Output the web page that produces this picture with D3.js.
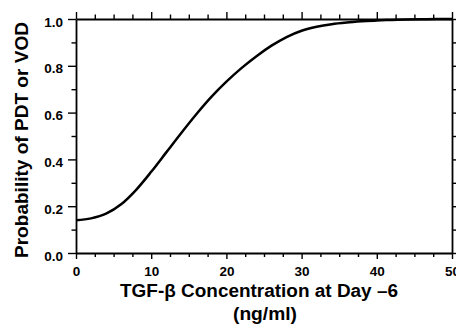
<!DOCTYPE html>
<html>
<head>
<meta charset="utf-8">
<script src="https://cdn.jsdelivr.net/npm/d3@7"></script>
<style>
  html, body { margin: 0; padding: 0; background: #fff; }
  svg { display: block; }
  text { font-family: "Liberation Sans", Arial, Helvetica, sans-serif; font-weight: bold; fill: #000; }
</style>
</head>
<body>
<svg id="chart" width="456" height="325"></svg>
<script>
// Data
const concentration = [0, 2, 4, 6, 8, 10, 12, 14, 16, 18, 20, 22, 24, 26, 28, 30, 32, 34, 36, 38, 40, 42, 44, 46, 48, 50];
const probability   = [0.140, 0.148, 0.168, 0.208, 0.270, 0.347, 0.430, 0.513, 0.593, 0.667, 0.732, 0.790, 0.841, 0.886, 0.923, 0.950, 0.967, 0.978, 0.985, 0.990, 0.994, 0.996, 0.998, 0.999, 1.0, 1.0];
const xMajorTicks = [0, 10, 20, 30, 40, 50];
const xMinorTicks = [2.5, 5, 7.5, 12.5, 15, 17.5, 22.5, 25, 27.5, 32.5, 35, 37.5, 42.5, 45, 47.5];
const yMajorTicks = [0, 0.2, 0.4, 0.6, 0.8, 1.0];
const yMinorTicks = [0.1, 0.3, 0.5, 0.7, 0.9];
const xTitle1 = "TGF-\u03B2 Concentration at Day \u20136";
const xTitle2 = "(ng/ml)";
const yTitle = "Probability of PDT or VOD";

const svg = d3.select("#chart");
const L = 76, R = 452, T = 19, B = 253;
const x = d3.scaleLinear().domain([0, 50]).range([L, R]);
const y = d3.scaleLinear().domain([0, 1]).range([B, T]);

function styleAxis(g, sw) {
  g.selectAll("path.domain").attr("stroke", "#000").attr("stroke-width", sw);
  g.selectAll(".tick line").attr("stroke", "#000").attr("stroke-width", 1.4);
}

// Bottom axis
const gb = svg.append("g").attr("transform", `translate(0,${B})`)
  .call(d3.axisBottom(x).tickValues(xMajorTicks).tickSize(6).tickSizeOuter(0).tickFormat(d3.format("d")));
styleAxis(gb, 1.8);
gb.selectAll(".tick text").attr("font-size", "13.5px").attr("y", 0).attr("dy", null)
  .attr("transform", "translate(0,23)").attr("font-family", null);
svg.append("g").attr("transform", `translate(0,${B})`)
  .call(d3.axisBottom(x).tickValues(xMinorTicks).tickSize(4).tickSizeOuter(0).tickFormat(""))
  .call(g => { g.select("path.domain").remove(); styleAxis(g, 1.5); });

// Top axis
const gt = svg.append("g").attr("transform", `translate(0,${T})`)
  .call(d3.axisTop(x).tickValues(xMajorTicks).tickSize(7).tickSizeOuter(0).tickFormat(""));
styleAxis(gt, 1.8);
svg.append("g").attr("transform", `translate(0,${T})`)
  .call(d3.axisTop(x).tickValues(xMinorTicks).tickSize(4.5).tickSizeOuter(0).tickFormat(""))
  .call(g => { g.select("path.domain").remove(); styleAxis(g, 1.5); });

// Left axis
const gl = svg.append("g").attr("transform", `translate(${L},0)`)
  .call(d3.axisLeft(y).tickValues(yMajorTicks).tickSize(8).tickSizeOuter(0).tickFormat(d3.format(".1f")));
styleAxis(gl, 1.8);
gl.selectAll(".tick text").attr("font-size", "13.5px").attr("x", -13).attr("dy", "0.52em").attr("font-family", null);
svg.append("g").attr("transform", `translate(${L},0)`)
  .call(d3.axisLeft(y).tickValues(yMinorTicks).tickSize(4.5).tickSizeOuter(0).tickFormat(""))
  .call(g => { g.select("path.domain").remove(); styleAxis(g, 1.5); });

// Right axis
const gr = svg.append("g").attr("transform", `translate(${R},0)`)
  .call(d3.axisRight(y).tickValues(yMajorTicks).tickSize(8).tickSizeOuter(0).tickFormat(""));
styleAxis(gr, 1.8);
svg.append("g").attr("transform", `translate(${R},0)`)
  .call(d3.axisRight(y).tickValues(yMinorTicks).tickSize(5).tickSizeOuter(0).tickFormat(""))
  .call(g => { g.select("path.domain").remove(); styleAxis(g, 1.5); });

// Curve
const line = d3.line()
  .x((d, i) => x(concentration[i]))
  .y(d => y(d))
  .curve(d3.curveMonotoneX);
svg.append("path")
  .datum(probability)
  .attr("d", line)
  .attr("fill", "none")
  .attr("stroke", "#000")
  .attr("stroke-width", 2.5);

// Titles
svg.append("text").attr("x", 259).attr("y", 297).attr("text-anchor", "middle")
  .attr("font-size", "18px").attr("textLength", 278).attr("lengthAdjust", "spacingAndGlyphs")
  .text(xTitle1);
svg.append("text").attr("x", 265).attr("y", 320).attr("text-anchor", "middle")
  .attr("font-size", "18px").attr("textLength", 64).attr("lengthAdjust", "spacingAndGlyphs")
  .text(xTitle2);
svg.append("text").attr("transform", "translate(28,140) rotate(-90)").attr("text-anchor", "middle")
  .attr("font-size", "18.5px").attr("textLength", 236).attr("lengthAdjust", "spacingAndGlyphs")
  .text(yTitle);
</script>
</body>
</html>
